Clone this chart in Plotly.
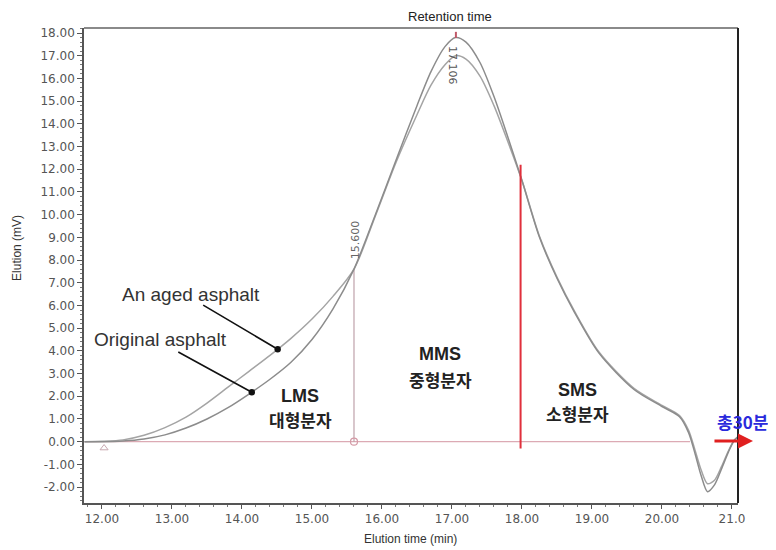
import plotly.graph_objects as go

# ---- data ----
elution_time = [11.75, 12.0, 12.3, 12.6, 12.9, 13.2, 13.5, 13.8, 14.1, 14.4,
                14.7, 15.0, 15.3, 15.6, 15.9, 16.2, 16.5, 16.7, 16.9, 17.05,
                17.2, 17.4, 17.6, 17.8, 18.0, 18.25, 18.5, 18.75, 19.1, 19.6,
                20.0, 20.25, 20.38, 20.47, 20.56, 20.65, 20.75, 20.85, 20.95, 21.03,
                21.08]
original_asphalt = [0.0, 0.0, 0.03, 0.12, 0.3, 0.6, 1.0, 1.5, 2.1, 2.75,
                    3.5, 4.5, 5.85, 7.6, 9.95, 12.4, 14.8, 16.3, 17.4, 17.8,
                    17.6, 16.7, 15.2, 13.4, 11.5, 9.0, 7.2, 5.7, 3.9, 2.3,
                    1.55, 1.1, 0.4, -0.5, -1.5, -2.2, -1.9, -1.2, -0.45, 0.05,
                    0.2]
aged_asphalt = [0.0, 0.02, 0.08, 0.28, 0.62, 1.08, 1.7, 2.4, 3.1, 3.8,
                4.55, 5.4, 6.4, 7.6, 9.9, 12.3, 14.4, 15.7, 16.6, 17.0,
                16.85, 16.1, 14.8, 13.2, 11.5, 9.05, 7.25, 5.75, 3.95, 2.35,
                1.6, 1.15, 0.5, -0.35, -1.25, -1.85, -1.7, -1.1, -0.4, 0.05,
                0.2]

x_tick_vals = [12, 13, 14, 15, 16, 17, 18, 19, 20, 21]
x_tick_text = ["12.00", "13.00", "14.00", "15.00", "16.00", "17.00", "18.00", "19.00", "20.00", "21.0"]
y_tick_vals = [-2, -1, 0, 1, 2, 3, 4, 5, 6, 7, 8, 9, 10, 11, 12, 13, 14, 15, 16, 17, 18]
y_tick_text = ["-2.00", "-1.00", "0.00", "1.00", "2.00", "3.00", "4.00", "5.00", "6.00", "7.00",
               "8.00", "9.00", "10.00", "11.00", "12.00", "13.00", "14.00", "15.00", "16.00",
               "17.00", "18.00"]

lms_cut = 15.600       # LMS / MMS boundary
lms_cut_value = 7.6
sms_cut = 17.98        # MMS / SMS boundary
sms_line_top = 12.2
peak_time = 17.106
baseline_end = 20.4

fig = go.Figure()

# baseline
fig.add_trace(go.Scatter(x=[11.75, baseline_end], y=[0, 0], mode="lines",
                         line=dict(color="#dcaab4", width=1.3), hoverinfo="skip"))
# LMS cut line
fig.add_trace(go.Scatter(x=[lms_cut, lms_cut], y=[0, lms_cut_value], mode="lines",
                         line=dict(color="#bfa2aa", width=1.2), hoverinfo="skip"))
# curves
fig.add_trace(go.Scatter(x=elution_time, y=aged_asphalt, mode="lines", name="An aged asphalt",
                         line=dict(color="#a4a4a4", width=1.5, shape="spline", smoothing=0.8)))
fig.add_trace(go.Scatter(x=elution_time, y=original_asphalt, mode="lines", name="Original asphalt",
                         line=dict(color="#8c8c8c", width=1.5, shape="spline", smoothing=0.8)))
# markers
fig.add_trace(go.Scatter(x=[lms_cut], y=[0], mode="markers",
                         marker=dict(symbol="circle-open", size=7, color="#d49aa6", line=dict(width=1.2))))
fig.add_trace(go.Scatter(x=[12.03], y=[-0.28], mode="markers",
                         marker=dict(symbol="triangle-up-open", size=7, color="#c8a8b0", line=dict(width=1))))
# SMS red line
fig.add_trace(go.Scatter(x=[sms_cut, sms_cut], y=[-0.3, sms_line_top], mode="lines",
                         line=dict(color="#e0303c", width=2), hoverinfo="skip"))
# peak tick
fig.add_trace(go.Scatter(x=[peak_time - 0.05, peak_time - 0.05], y=[17.78, 18.05], mode="lines",
                         line=dict(color="#c05868", width=2), hoverinfo="skip"))

# the page body has an 8px margin: the figure is 8px smaller and its left/top margins shifted
fig.update_layout(
    width=768, height=542,
    margin=dict(l=76, r=38, t=20, b=47),
    plot_bgcolor="white", paper_bgcolor="white",
    showlegend=False,
    xaxis=dict(range=[11.743, 21.086], tickmode="array", tickvals=x_tick_vals, ticktext=x_tick_text,
               ticks="outside", ticklen=4, tickcolor="#555", tickwidth=1,
               showline=True, linecolor="#555", linewidth=1.5, showgrid=False, zeroline=False,
               minor=dict(tickmode="linear", tick0=12, dtick=0.2, ticks="outside", ticklen=2,
                          tickcolor="#777", showgrid=False),
               tickfont=dict(family="DejaVu Sans", size=12, color="#555")),
    yaxis=dict(range=[-2.70, 18.22], tickmode="array", tickvals=y_tick_vals, ticktext=y_tick_text,
               ticks="outside", ticklen=5, tickcolor="#555", tickwidth=1,
               showline=True, linecolor="#555", linewidth=1.5, showgrid=False, zeroline=False,
               minor=dict(tickmode="linear", tick0=0, dtick=0.2, ticks="outside", ticklen=2,
                          tickcolor="#777", showgrid=False),
               tickfont=dict(family="DejaVu Sans", size=12, color="#555")),
    shapes=[
        dict(type="line", xref="paper", yref="paper", x0=0, x1=1, y0=1, y1=1,
             line=dict(color="#8a8a8a", width=2)),
        dict(type="line", xref="paper", yref="paper", x0=1, x1=1, y0=0, y1=1,
             line=dict(color="#222", width=2)),
    ],
)

ann = []
def txt(x, y, text, size, color="#333", bold=False, xref="x", yref="y", angle=0, family="Liberation Sans, Arial"):
    t = f"<b>{text}</b>" if bold else text
    ann.append(dict(x=x, y=y, xref=xref, yref=yref, text=t, showarrow=False, textangle=angle,
                    font=dict(size=size, color=color, family=family), xanchor="center", yanchor="middle"))

txt(0.5596, 1.0232, "Retention time", 13, color="#222", xref="paper", yref="paper")
txt(0.4985, -0.0758, "Elution time (min)", 12, color="#333", xref="paper", yref="paper")
txt(-0.1024, 0.537, "Elution (mV)", 12, color="#333", xref="paper", yref="paper", angle=-90)
txt(13.27, 6.5, "An aged asphalt", 19, color="#333")
txt(12.83, 4.48, "Original asphalt", 19, color="#333")
kr = "Noto Sans CJK KR"
txt(14.83, 2.0, "LMS", 18, color="#222", bold=True)
txt(14.83, 0.98, "대형분자", 17, color="#222", bold=True, family=kr)
txt(16.83, 3.86, "MMS", 18, color="#222", bold=True)
txt(16.83, 2.72, "중형분자", 17, color="#222", bold=True, family=kr)
txt(18.79, 2.28, "SMS", 18, color="#222", bold=True)
txt(18.79, 1.26, "소형분자", 17, color="#222", bold=True, family=kr)
txt(1.0075, 0.1726, "총30분", 17, color="#2a2adc", bold=True, xref="paper", yref="paper", family=kr)
txt(15.62, 8.89, "15.600", 11, color="#666", angle=-90, family="DejaVu Sans")
txt(17.0, 16.55, "17.106", 11, color="#555", angle=90, family="DejaVu Sans")

# pointer lines
ann.append(dict(x=14.51, y=4.07, xref="x", yref="y", text="", showarrow=True, ax=-76, ay=-45,
                arrowhead=6, arrowsize=1, arrowwidth=1.6, arrowcolor="#111"))
ann.append(dict(x=14.14, y=2.18, xref="x", yref="y", text="", showarrow=True, ax=-75, ay=-41,
                arrowhead=6, arrowsize=1, arrowwidth=1.6, arrowcolor="#111"))
# red arrow
ann.append(dict(x=1.0229, y=0.1305, xref="paper", yref="paper", text="", showarrow=True, ax=-40, ay=0,
                arrowhead=2, arrowsize=1, arrowwidth=3, arrowcolor="#e02020"))

fig.update_layout(annotations=ann)
fig.write_html("out.html")
